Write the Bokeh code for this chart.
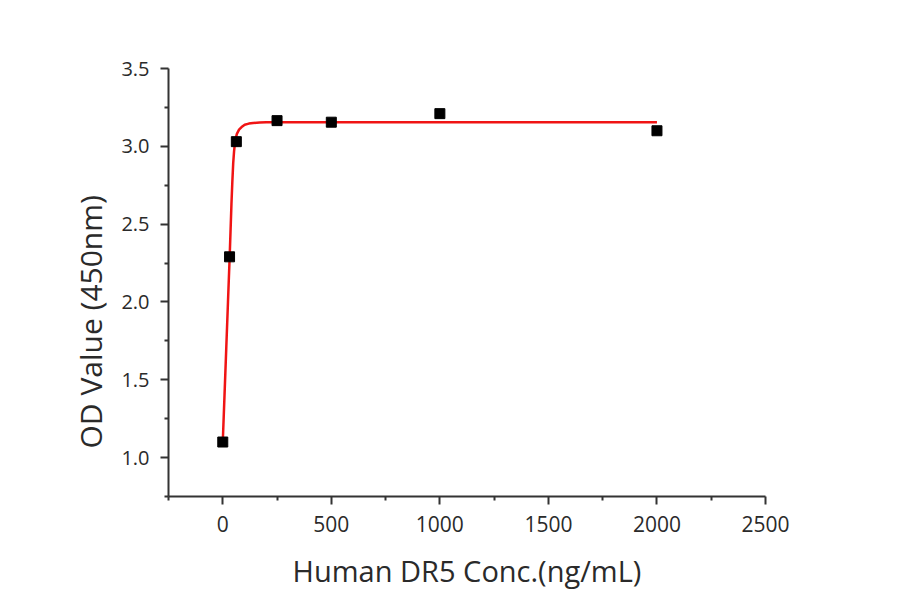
from bokeh.plotting import figure
from bokeh.models import Range1d, FixedTicker, NumeralTickFormatter, Title
from bokeh.embed import file_html
from bokeh.resources import INLINE

# measured points
conc = [0, 31.25, 62.5, 250, 500, 1000, 2000]
od = [1.10, 2.29, 3.03, 3.165, 3.155, 3.21, 3.10]

# fitted curve
fit_x = [0, 8, 16, 24, 32, 40, 44, 48, 52, 56, 60, 65, 75, 90, 101, 120, 140, 170, 200, 300, 500, 1000, 2000]
fit_y = [1.10, 1.40, 1.70, 2.00, 2.30, 2.63, 2.77, 2.89, 2.967, 3.02, 3.053, 3.08, 3.107, 3.128, 3.139, 3.146, 3.150, 3.153, 3.154, 3.155, 3.155, 3.155, 3.155]

x_major = [0, 500, 1000, 1500, 2000, 2500]
x_minor = [-250, 250, 750, 1250, 1750, 2250]
y_major = [1.0, 1.5, 2.0, 2.5, 3.0, 3.5]
y_minor = [0.75, 1.25, 1.75, 2.25, 2.75, 3.25]

FONT = "Open Sans"
TXT = "#2a2a2a"

p = figure(frame_width=597, frame_height=428,
           min_border_left=168, min_border_top=68, min_border_right=115, min_border_bottom=90,
           x_range=Range1d(-250, 2500), y_range=Range1d(0.75, 3.5),
           output_backend="svg", toolbar_location=None,
           background_fill_color="white", border_fill_color="white")
p.outline_line_color = None
p.grid.visible = False

p.line(fit_x, fit_y, line_color="#f01414", line_width=2.5)
p.scatter(conc, od, marker="square", size=10, fill_color="black", line_color="black")

for ax in (p.xaxis[0], p.yaxis[0]):
    ax.axis_line_color = "#333333"
    ax.axis_line_width = 2
    ax.major_tick_line_color = "#333333"
    ax.major_tick_line_width = 2
    ax.minor_tick_line_color = "#333333"
    ax.minor_tick_line_width = 2
    ax.major_tick_out = 8
    ax.major_tick_in = 0
    ax.minor_tick_out = 4
    ax.minor_tick_in = 0
    ax.major_label_text_font = FONT
    ax.major_label_text_color = TXT
    ax.axis_label_text_font = FONT
    ax.axis_label_text_font_style = "normal"
    ax.axis_label_text_font_size = "29px"
    ax.axis_label_text_color = TXT

p.xaxis[0].major_label_text_font_size = "21px"
p.yaxis[0].major_label_text_font_size = "20px"
p.xaxis[0].ticker = FixedTicker(ticks=x_major, minor_ticks=x_minor)
p.yaxis[0].ticker = FixedTicker(ticks=y_major, minor_ticks=y_minor)
p.xaxis[0].formatter = NumeralTickFormatter(format="0")
p.yaxis[0].formatter = NumeralTickFormatter(format="0.0")
p.xaxis[0].major_label_standoff = 11
p.yaxis[0].major_label_standoff = 11
p.xaxis[0].axis_label = "Human DR5 Conc.(ng/mL)"
p.xaxis[0].axis_label_standoff = 16

ytitle = Title(text="OD Value (450nm)", align="left", offset=48, standoff=16,
               text_font=FONT, text_font_size="30px", text_font_style="normal",
               text_color=TXT)
p.add_layout(ytitle, "left")

open("out.html", "w").write(file_html(p, INLINE))
